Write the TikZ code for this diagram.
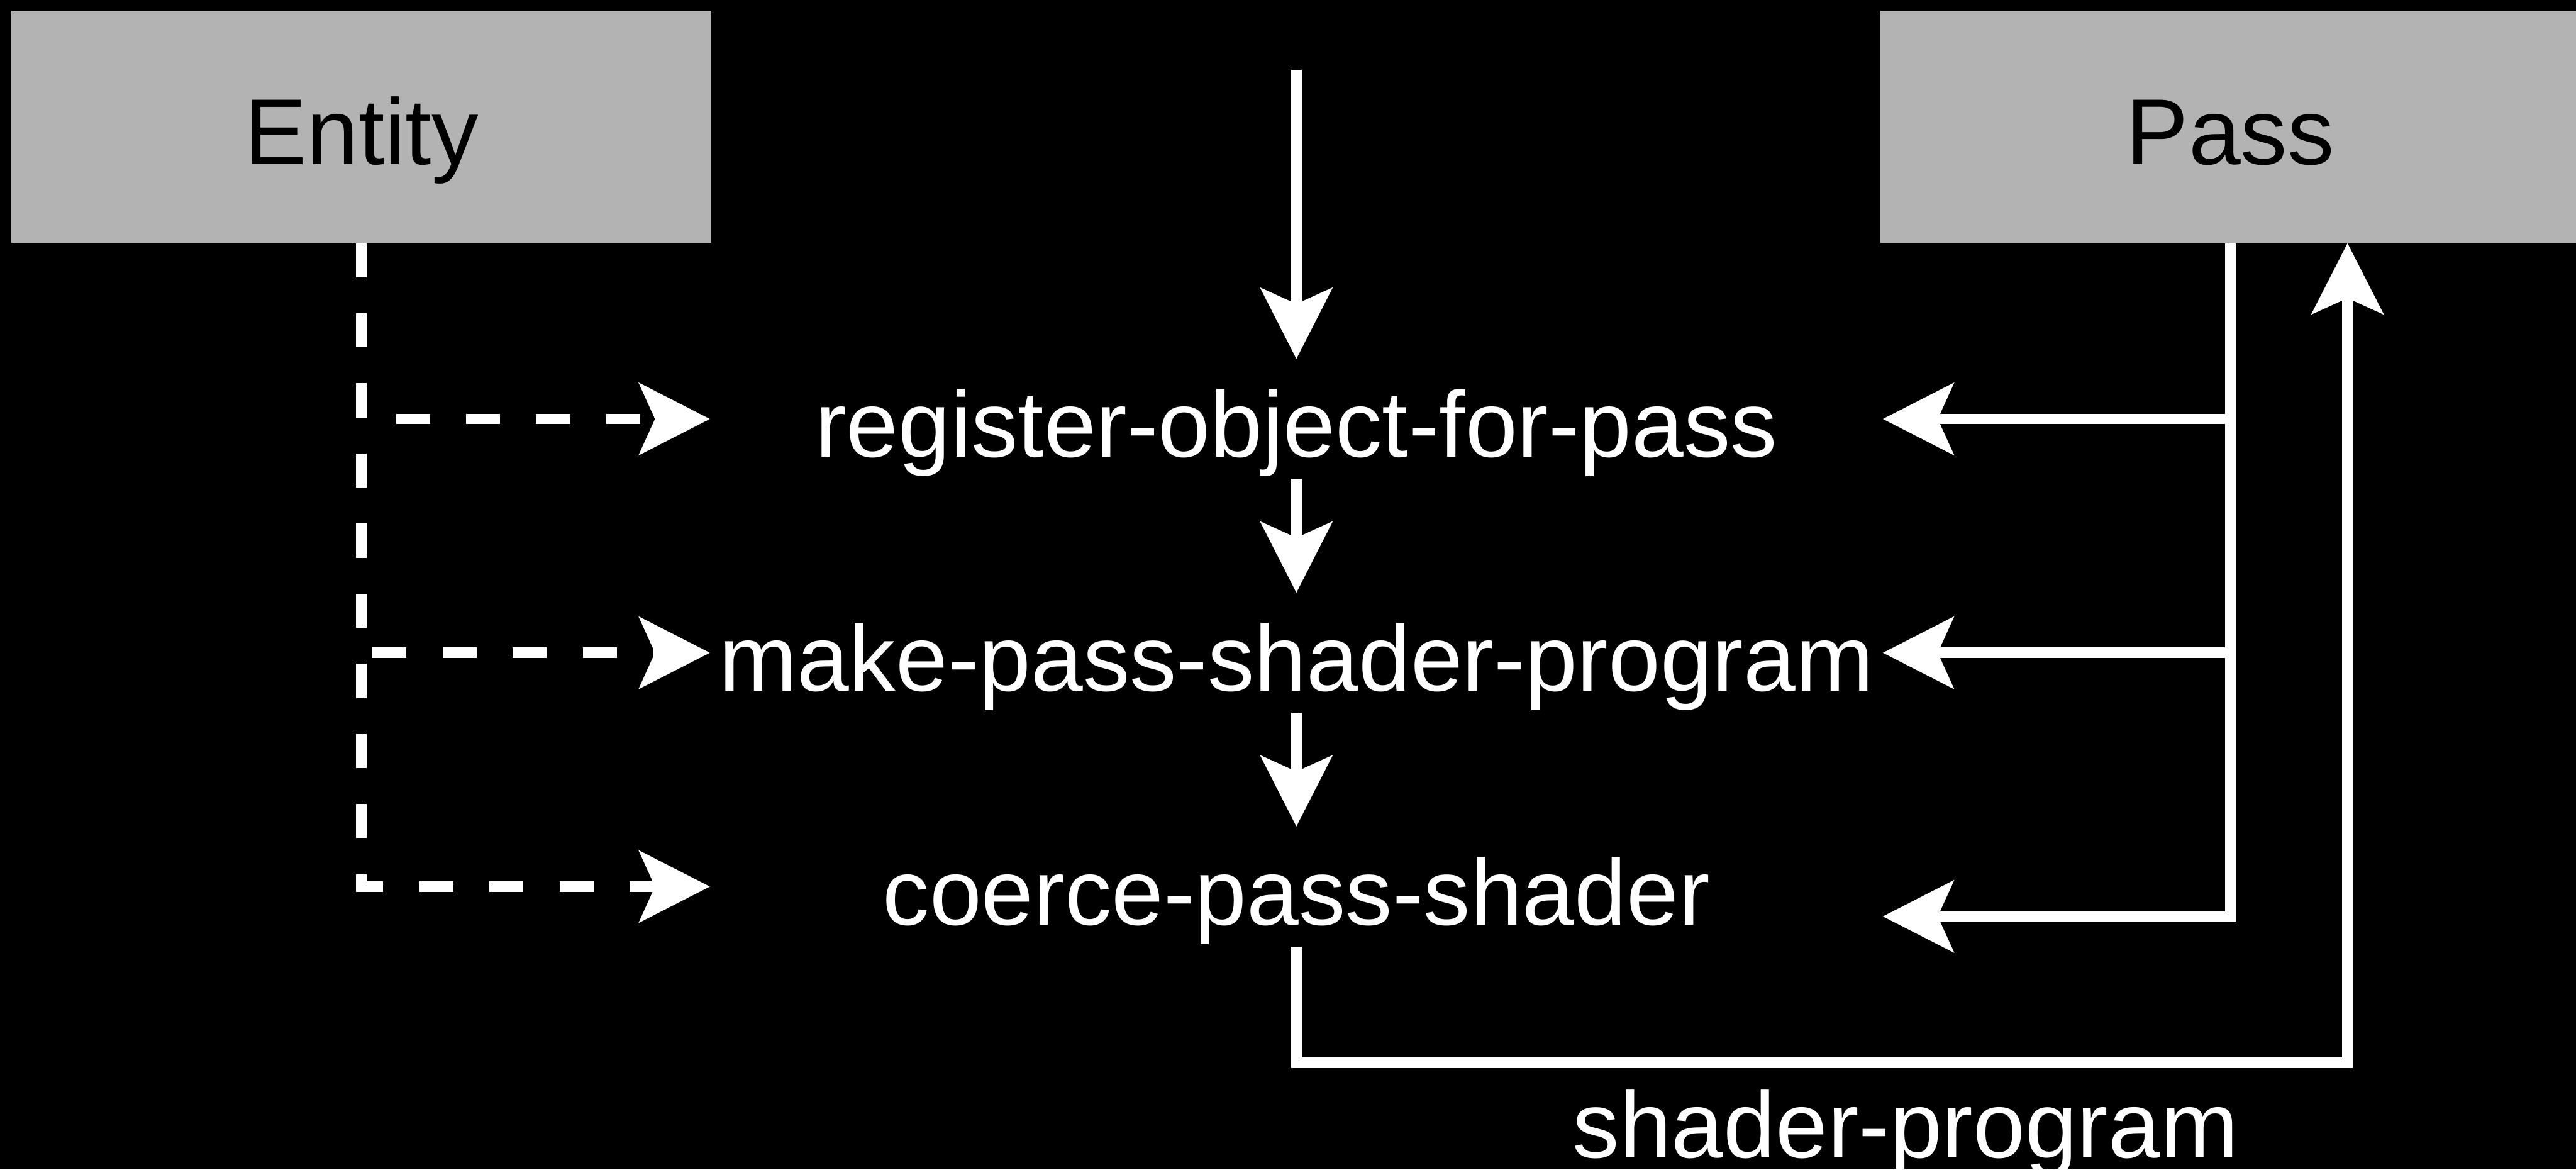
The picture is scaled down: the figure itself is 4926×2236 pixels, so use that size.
\documentclass[tikz,border=0pt]{standalone}
\usepackage{fontspec}
\setmainfont{Liberation Sans}
\usetikzlibrary{arrows.meta}
\definecolor{boxgray}{RGB}{179,179,179}
\newcommand\diagfont{\fontsize{50.9pt}{61pt}\selectfont}
\begin{document}
\begin{tikzpicture}[x=0.01cm, y=-0.01cm,
  wire/.style={draw=white, line width=0.2cm, line join=miter},
  arr/.style={wire, -{Stealth[length=1.35cm, width=1.36cm, inset=0.3cm]}},
  darr/.style={arr, dash pattern=on 0.65cm off 0.69cm},
  box/.style={fill=boxgray, minimum width=13.38cm, minimum height=4.44cm,
    inner sep=0pt, text height=1.87cm, text depth=0.41cm,
    font=\diagfont, text=black},
  fn/.style={minimum width=22.4cm, minimum height=2.28cm, inner sep=0pt,
    text height=1.87cm, text depth=0.41cm, font=\diagfont, text=white}]

% canvas
\fill[black] (0,0) rectangle (4926,2236);
\useasboundingbox (0,0) rectangle (4926,2236);

% objects
\node[box] (ent) at (691,242) {Entity};
\node[box] (pas) at (4265,242) {Pass};

% functions
\node[fn] (reg) at (2479,801) {register-object-for-pass};
\node[fn] (mak) at (2479,1248) {make-pass-shader-program};
\node[fn] (coe) at (2479,1695) {coerce-pass-shader};

% call chain
\coordinate (src) at (2479,133);
\draw[arr] (src) -- (reg.north);
\draw[arr] (reg.south) -- (mak.north);
\draw[arr] (mak.south) -- (coe.north);

% result handed back to the pass
\coordinate (ret) at (4489,2032);
\draw[arr] (coe.south) |- (ret) -- (ret |- pas.south);
\node[text=white, font=\diagfont, anchor=base, inner sep=0pt] (lbl) at (3644,2213) {shader-program};

% pass arguments
\draw[arr] (pas.south) |- (reg.east);
\draw[arr] (pas.south) |- (mak.east);
\draw[arr] (pas.south) |- ([yshift=-0.57cm]coe.east);

% entity arguments
\draw[darr] (ent.south) |- (reg.west);
\draw[darr] (ent.south) |- (mak.west);
\draw[darr] (ent.south) |- (coe.west);
\end{tikzpicture}
\end{document}
